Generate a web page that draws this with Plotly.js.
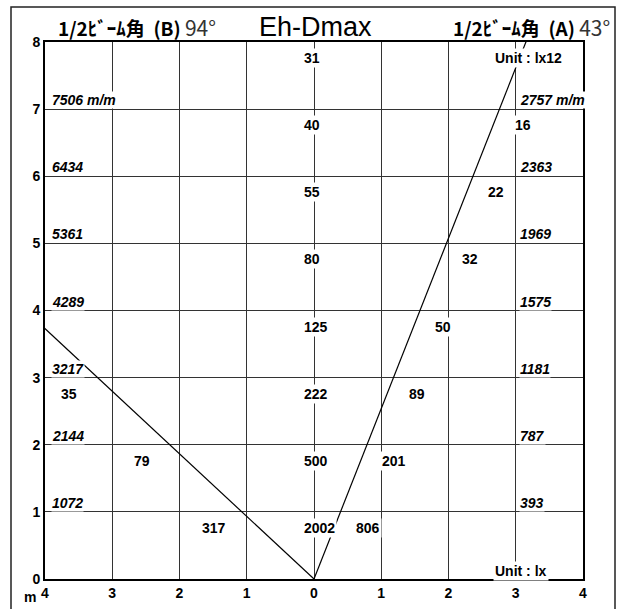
<!DOCTYPE html>
<html>
<head>
<meta charset="utf-8">
<script src="https://cdn.plot.ly/plotly-3.0.1.min.js"></script>
<style>
  body { margin: 0; background: #fff; }
  #chart { width: 623px; height: 609px; }
</style>
</head>
<body>
<div id="chart"></div>
<script>
// distance from the lamp (m)
const distances = [1, 2, 3, 4, 5, 6, 7, 8];
// illuminance on the beam axis (lx)
const luxCenter = [2002, 500, 222, 125, 80, 55, 40, 31];
// illuminance at the beam edge, A side and B side (lx)
const luxA = [806, 201, 89, 50, 32, 22, 16];
const luxB = [317, 79, 35];
// beam diameter (mm)
const diaA = [393, 787, 1181, 1575, 1969, 2363, 2757];
const diaB = [1072, 2144, 3217, 4289, 5361, 6434, 7506];
const beamAngleA = 43;
const beamAngleB = 94;
const xTicks = [-4, -3, -2, -1, 0, 1, 2, 3, 4];
const xTickText = ['4', '3', '2', '1', '0', '1', '2', '3', '4'];
const yTicks = [0, 1, 2, 3, 4, 5, 6, 7, 8];

const W = 623, H = 609;
const M = {l: 45, r: 40, t: 42, b: 30};
const pw = W - M.l - M.r, ph = H - M.t - M.b;
const px = (x) => (x - M.l) / pw;      // pixel -> paper x
const py = (y) => (H - M.b - y) / ph;  // pixel -> paper y

const FONT = 'Liberation Sans, Arial, sans-serif';
const JP = 'Noto Sans CJK JP, sans-serif';

const tanA = Math.tan(beamAngleA / 2 * Math.PI / 180);
const tanB = Math.tan(beamAngleB / 2 * Math.PI / 180);

// beam edges, clipped by the axes
const data = [
    {x: [0, 10 * tanA], y: [0, 10], mode: 'lines', line: {color: '#000', width: 1.2}, hoverinfo: 'skip'},
    {x: [0, -10 * tanB], y: [0, 10], mode: 'lines', line: {color: '#000', width: 1.2}, hoverinfo: 'skip'},
];

const annotations = [];
function lbl(o) {
    annotations.push(Object.assign({
        showarrow: false, bgcolor: '#fff', borderpad: 1,
        font: {family: FONT, size: 14, color: '#000', weight: 'bold'},
    }, o));
}

luxCenter.forEach((v, i) => lbl({
    x: 0, y: distances[i], xanchor: 'left', yanchor: 'top', xshift: -12, yshift: -6, text: String(v),
}));
luxA.forEach((v, i) => lbl({
    x: tanA * distances[i] + 0.2, y: distances[i], xanchor: 'left', yanchor: 'top', yshift: -6, text: String(v),
}));
luxB.forEach((v, i) => lbl({
    x: -(tanB * distances[i] + 0.42), y: distances[i], xanchor: 'center', yanchor: 'top', yshift: -6, text: String(v),
}));
diaB.forEach((v, i) => lbl({
    x: -4, y: distances[i], xanchor: 'left', yanchor: 'bottom', xshift: 6, borderpad: 0,
    text: '<i>' + v + (i === diaB.length - 1 ? ' m/m' : '') + '</i>',
}));
diaA.forEach((v, i) => lbl({
    x: 3, y: distances[i], xanchor: 'left', yanchor: 'bottom', xshift: 3, borderpad: 0,
    text: '<i>' + v + (i === diaA.length - 1 ? ' m/m' : '') + '</i>',
}));
lbl({x: 2.66, y: 7.76, xanchor: 'left', yanchor: 'middle', text: 'Unit : lx12'});
lbl({x: 2.66, y: 0.12, xanchor: 'left', yanchor: 'middle', text: 'Unit : lx'});

// headings
function heading(side, angle) {
    return '<b>1/2ﾋﾞｰﾑ角\u00a0\u00a0(' + side + ')</b>\u00a0<span style="font-size:21px;color:#333">' + angle + '°</span>';
}
annotations.push({
    xref: 'paper', yref: 'paper', x: px(56), y: py(27), xanchor: 'left', yanchor: 'middle', showarrow: false,
    font: {family: JP, size: 19, color: '#000'}, text: heading('B', beamAngleB),
});
annotations.push({
    xref: 'paper', yref: 'paper', x: px(451), y: py(27), xanchor: 'left', yanchor: 'middle', showarrow: false,
    font: {family: JP, size: 19, color: '#000'}, text: heading('A', beamAngleA),
});
annotations.push({
    xref: 'paper', yref: 'paper', x: px(315), y: py(27), xanchor: 'center', yanchor: 'middle', showarrow: false,
    font: {family: FONT, size: 27, color: '#000'}, text: 'Eh-Dmax',
});
annotations.push({
    xref: 'paper', yref: 'paper', x: px(30), y: py(597), xanchor: 'center', yanchor: 'middle', showarrow: false,
    font: {family: FONT, size: 14, color: '#000', weight: 'bold'}, text: 'm',
});

const axisCommon = {
    showgrid: true,
    gridcolor: '#333',
    gridwidth: 1,
    zeroline: false,
    showline: true,
    mirror: true,
    linecolor: '#000',
    linewidth: 2,
    ticks: '',
    tickfont: {family: FONT, size: 14, color: '#000', weight: 'bold'},
    fixedrange: true,
};

const layout = {
    width: W,
    height: H,
    margin: {l: M.l, r: M.r, t: M.t, b: M.b, pad: 0},
    showlegend: false,
    paper_bgcolor: '#fff',
    plot_bgcolor: '#fff',
    xaxis: Object.assign({}, axisCommon, {range: [-4, 4], tickvals: xTicks, ticktext: xTickText}),
    yaxis: Object.assign({}, axisCommon, {range: [0, 8], tickvals: yTicks}),
    annotations: annotations,
    shapes: [{
        type: 'rect', xref: 'paper', yref: 'paper',
        x0: px(11), x1: px(615), y0: py(620), y1: py(7),
        line: {color: '#222', width: 1.5},
    }],
};

Plotly.newPlot('chart', data, layout, {staticPlot: true});
</script>
</body>
</html>
